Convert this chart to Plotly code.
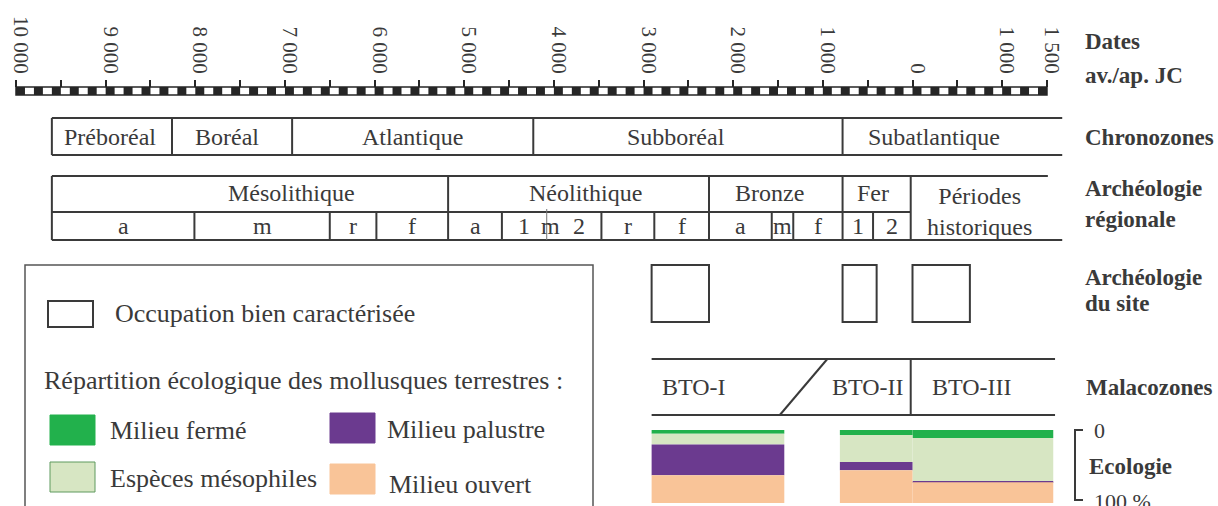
import plotly.graph_objects as go

W, H = 1218, 506
SERIF = "Liberation Serif"
INK = "#3a3a3a"

# ---------------- data (years; negative = BC / av. JC) ----------------
tick_years = list(range(-10000, 1501, 500))
tick_labels = ["10 000", "", "9 000", "", "8 000", "", "7 000", "", "6 000", "",
               "5 000", "", "4 000", "", "3 000", "", "2 000", "", "1 000", "",
               "0", "", "1 000", "1 500"]

chrono_names = ["Préboréal", "Boréal", "Atlantique", "Subboréal", "Subatlantique"]
chrono_bounds = [-9600, -8260, -6920, -4230, -780, 1670]

period_names = ["Mésolithique", "Néolithique", "Bronze", "Fer"]
period_bounds = [-9600, -5180, -2270, -780, -20]
historic_name = "Périodes<br>historiques"
historic_end = 1510

phase_names = ["a", "m", "r", "f", "a", "1", "2", "r", "f", "a", "m", "f", "1", "2"]
phase_start = [-9600, -8010, -6500, -5980, -5180, -4580, -4080, -3470, -2880,
               -2270, -1570, -1330, -780, -440]
phase_end = [-8010, -6500, -5980, -5180, -4580, -4080, -3470, -2880, -2270,
             -1570, -1330, -780, -440, -20]
neo_middle_split = -4080          # Néolithique moyen 1 / 2
neo_middle_label = "m"

site_start = [-2910, -780, 0]
site_end = [-2270, -400, 640]

malaco_names = ["BTO-I", "BTO-II", "BTO-III"]
malaco_start, malaco_end = -2910, 1590
malaco_I_II = (-1480, -950)       # oblique limit (base, top)
malaco_II_III = -20

eco_start = [-2910, -810, 0]
eco_end = [-1430, 0, 1570]
eco_closed = [5, 7, 11]           # Milieu fermé (%)
eco_meso = [15, 37, 59]           # Espèces mésophiles (%)
eco_marsh = [42, 11, 1.5]         # Milieu palustre (%)
eco_open = [38, 45, 28.5]         # Milieu ouvert (%)

# ---------------- styling / layout constants ----------------
GREEN, LIGHT, PURPLE, ORANGE = "#22b14c", "#d7e6c3", "#6b3a8f", "#f9c498"
X_RANGE = [-10178.5, 3407.7]      # -10000 -> 16 px, 1500 -> 1047 px
Y_AXIS, Y_BAR = 87, 95
CHR_T, CHR_B = 118, 155
ARC_T, ARC_M, ARC_B = 176, 212, 240
SITE_T, SITE_B = 265, 322
MAL_T, MAL_B = 359, 415
ECO_T, ECO_B = 430, 503
RIGHT_X = 1083
# where the zone names sit along the time axis (years)
chrono_label_at = [-8950, -7650, -5580, -2640, 240]
period_label_at = [-6930, -3650, -1600, -440]
malaco_label_at = [-2440, -500, 660]


def py(v):
    return 1 - v / H


def px(v):
    return v / W


shapes = []
annos = []


def hline(x0, x1, y, w=2, color=INK):
    shapes.append(dict(type="line", xref="x", yref="paper", x0=x0, x1=x1,
                       y0=py(y), y1=py(y), line=dict(color=color, width=w)))


def vline(x, y0, y1, w=2, color=INK):
    shapes.append(dict(type="line", xref="x", yref="paper", x0=x, x1=x,
                       y0=py(y0), y1=py(y1), line=dict(color=color, width=w)))


def text(x, y, s, size=24, xref="x", xanchor="center", bold=False, color=INK):
    annos.append(dict(x=x, y=py(y), xref=xref, yref="paper", text=f"<b>{s}</b>" if bold else s,
                      showarrow=False, xanchor=xanchor, yanchor="middle",
                      font=dict(family=SERIF, size=size, color=color)))


fig = go.Figure()

# ---------------- ecology stacked bars ----------------
mids = [(s + e) / 2 for s, e in zip(eco_start, eco_end)]
widths = [e - s for s, e in zip(eco_start, eco_end)]
base = [0, 0, 0]
for name, vals, col in [("Milieu fermé", eco_closed, GREEN),
                        ("Espèces mésophiles", eco_meso, LIGHT),
                        ("Milieu palustre", eco_marsh, PURPLE),
                        ("Milieu ouvert", eco_open, ORANGE)]:
    fig.add_bar(x=mids, y=vals, base=list(base), width=widths, name=name,
                marker=dict(color=col, line=dict(width=0)), showlegend=False,
                hoverinfo="skip")
    base = [b + v for b, v in zip(base, vals)]

# ---------------- time scale bar ----------------
seg = 100
for i, y0 in enumerate(range(tick_years[0], tick_years[-1], seg)):
    if i % 2 == 0:
        shapes.append(dict(type="rect", xref="x", yref="paper", x0=y0, x1=y0 + seg,
                           y0=py(Y_BAR), y1=py(Y_AXIS), fillcolor="#262626",
                           line=dict(width=0)))
shapes.append(dict(type="rect", xref="x", yref="paper", x0=tick_years[0], x1=tick_years[-1],
                   y0=py(Y_BAR), y1=py(Y_AXIS), line=dict(color="#262626", width=1.5)))
text(px(RIGHT_X), 42, "Dates", 23, xref="paper", xanchor="left", bold=True)
text(px(RIGHT_X), 75, "av./ap. JC", 23, xref="paper", xanchor="left", bold=True)

# ---------------- chronozones ----------------
hline(chrono_bounds[0], chrono_bounds[-1], CHR_T)
hline(chrono_bounds[0], chrono_bounds[-1], CHR_B)
for b in chrono_bounds[:-1]:
    vline(b, CHR_T, CHR_B)
for n, xc in zip(chrono_names, chrono_label_at):
    text(xc, (CHR_T + CHR_B) / 2, n, 24)
text(px(RIGHT_X), 137, "Chronozones", 23, xref="paper", xanchor="left", bold=True)

# ---------------- archéologie régionale ----------------
hline(period_bounds[0], historic_end, ARC_T)
hline(period_bounds[0], period_bounds[-1], ARC_M)
hline(period_bounds[0], chrono_bounds[-1], ARC_B)
for b in period_bounds:
    vline(b, ARC_T, ARC_B)
for n, xc in zip(period_names, period_label_at):
    text(xc, 193, n, 24)
for n, s, e in zip(phase_names, phase_start, phase_end):
    if s not in period_bounds and s != neo_middle_split:
        vline(s, ARC_M, ARC_B)
    text((s + e) / 2 + (60 if s == neo_middle_split else 0), 226, n, 24)
vline(neo_middle_split, ARC_M - 3, ARC_B, w=1, color="#777777")
text(neo_middle_split + 45, 226, neo_middle_label, 24)
annos.append(dict(x=(period_bounds[-1] + historic_end) / 2, y=py(211), xref="x", yref="paper",
                  text=historic_name, showarrow=False, xanchor="center", yanchor="middle",
                  align="center", font=dict(family=SERIF, size=24, color=INK)))
text(px(RIGHT_X), 188, "Archéologie", 23, xref="paper", xanchor="left", bold=True)
text(px(RIGHT_X), 220, "régionale", 23, xref="paper", xanchor="left", bold=True)

# ---------------- archéologie du site ----------------
for s, e in zip(site_start, site_end):
    shapes.append(dict(type="rect", xref="x", yref="paper", x0=s, x1=e,
                       y0=py(SITE_B), y1=py(SITE_T), line=dict(color=INK, width=2)))
text(px(RIGHT_X), 277, "Archéologie", 23, xref="paper", xanchor="left", bold=True)
text(px(RIGHT_X), 303, "du site", 23, xref="paper", xanchor="left", bold=True)

# ---------------- malacozones ----------------
hline(malaco_start, malaco_end, MAL_T)
hline(malaco_start, malaco_end, MAL_B)
shapes.append(dict(type="line", xref="x", yref="paper", x0=malaco_I_II[0], x1=malaco_I_II[1],
                   y0=py(MAL_B), y1=py(MAL_T), line=dict(color=INK, width=2)))
vline(malaco_II_III, MAL_T, MAL_B)
for n, xc in zip(malaco_names, malaco_label_at):
    text(xc, 387, n, 24)
text(px(1084), 387, "Malacozones", 23, xref="paper", xanchor="left", bold=True)

# ---------------- ecology scale bracket ----------------
shapes.append(dict(type="path", xref="paper", yref="paper",
                   path=f"M {px(1083)},{py(430)} L {px(1075)},{py(430)} "
                        f"L {px(1075)},{py(500)} L {px(1083)},{py(500)}",
                   line=dict(color=INK, width=2)))
text(px(1092), 430, "0", 22, xref="paper", xanchor="left")
text(px(1087), 466, "Ecologie", 23, xref="paper", xanchor="left", bold=True)
text(px(1092), 501, "100 %", 22, xref="paper", xanchor="left")

# ---------------- legend box ----------------
shapes.append(dict(type="rect", xref="paper", yref="paper", x0=px(25), x1=px(593),
                   y0=py(540), y1=py(265), line=dict(color="#555555", width=1.5)))
shapes.append(dict(type="rect", xref="paper", yref="paper", x0=px(48), x1=px(93),
                   y0=py(327), y1=py(301), line=dict(color=INK, width=2)))
text(px(113), 313, "Occupation bien caractérisée", 26, xref="paper", xanchor="left")
text(px(42), 380, "Répartition écologique des mollusques terrestres :", 26,
     xref="paper", xanchor="left")
for (x0, y0, col, edge), (tx, ty, label) in zip(
        [(50, 415, GREEN, GREEN), (330, 413, PURPLE, PURPLE),
         (50, 462, LIGHT, "#5f9a5f"), (330, 464, ORANGE, ORANGE)],
        [(108, 430, "Milieu fermé"), (385, 429, "Milieu palustre"),
         (108, 478, "Espèces mésophiles"), (387, 484, "Milieu ouvert")]):
    shapes.append(dict(type="rect", xref="paper", yref="paper", x0=px(x0), x1=px(x0 + 45),
                       y0=py(y0 + 30), y1=py(y0), fillcolor=col,
                       line=dict(color=edge, width=1)))
    text(px(tx), ty, label, 26, xref="paper", xanchor="left")

fig.update_layout(
    width=W, height=H, margin=dict(l=0, r=0, t=0, b=0),
    paper_bgcolor="white", plot_bgcolor="white", barmode="overlay",
    showlegend=False, shapes=shapes, annotations=annos,
    xaxis=dict(range=X_RANGE, side="top", anchor="free", position=py(Y_AXIS),
               tickmode="array", tickvals=tick_years, ticktext=tick_labels,
               ticks="outside", ticklen=7, tickwidth=1.5, tickcolor="#262626",
               tickangle=90, tickfont=dict(family=SERIF, size=21, color=INK),
               ticklabelstandoff=-1, ticklabelshift=5,
               showgrid=False, zeroline=False, showline=False, fixedrange=True),
    yaxis=dict(domain=[py(ECO_B), py(ECO_T)], range=[100, 0], visible=False,
               fixedrange=True),
)

fig.write_html("out.html")
